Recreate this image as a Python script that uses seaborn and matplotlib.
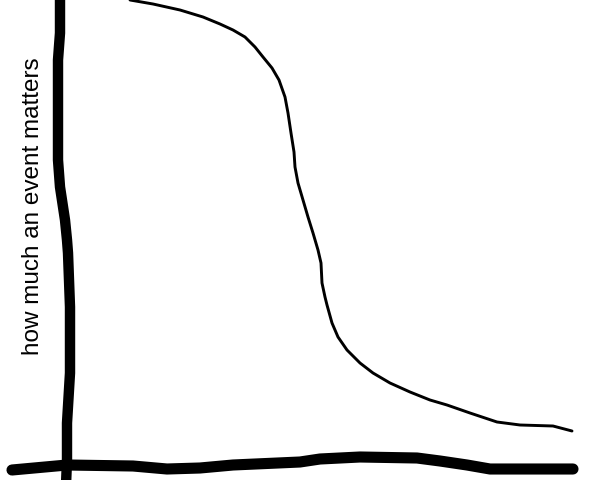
import matplotlib
matplotlib.use("Agg")
import matplotlib.pyplot as plt
import seaborn as sns
import pandas as pd

# Curve: "how much an event matters" (pixel-like units)
curve_x = [130, 153, 180, 203, 220, 233, 245, 255, 263, 272, 279, 285, 288, 291,
           294, 295, 298, 303, 308, 313, 318, 321, 322, 325, 327, 332, 338, 347,
           360, 373, 390, 410, 430, 447, 470, 497, 520, 553, 572]
curve_y = [0, 4, 10, 17, 24, 30, 37, 47, 57, 68, 80, 97, 113, 133,
           152, 167, 183, 200, 217, 233, 250, 263, 283, 297, 305, 323, 337, 350,
           363, 373, 383, 392, 400, 405, 413, 422, 425, 426, 431]

# Hand-drawn vertical axis
yaxis_x = [60, 60, 58, 58, 58, 60, 65, 67, 68, 69, 70, 70, 67, 67, 66]
yaxis_y = [-5, 33, 60, 120, 160, 187, 220, 240, 253, 280, 307, 373, 423, 460, 485]

# Hand-drawn horizontal axis
xaxis_x = [12, 67, 133, 167, 200, 233, 300, 320, 360, 417, 440, 467, 490, 533, 573]
xaxis_y = [470, 465, 466, 469, 468, 465, 462, 459, 457, 458, 461, 465, 469, 469, 469]

ylabel = "how much an event matters"

sns.set_theme(style="white")
plt.rcParams['font.family'] = ['Liberation Sans', 'DejaVu Sans']

fig = plt.figure(figsize=(6, 4.8), dpi=100)
ax = fig.add_axes([0, 0, 1, 1])

sns.lineplot(data=pd.DataFrame({"x": yaxis_x, "y": yaxis_y}), x="x", y="y",
             sort=False, estimator=None, color="black", linewidth=7.5,
             solid_capstyle="round", solid_joinstyle="round", ax=ax)
sns.lineplot(data=pd.DataFrame({"x": xaxis_x, "y": xaxis_y}), x="x", y="y",
             sort=False, estimator=None, color="black", linewidth=8,
             solid_capstyle="round", solid_joinstyle="round", ax=ax)
sns.lineplot(data=pd.DataFrame({"x": curve_x, "y": curve_y}), x="x", y="y",
             sort=False, estimator=None, color="black", linewidth=2.1,
             solid_capstyle="round", solid_joinstyle="round", ax=ax)

ax.text(33, 206, ylabel, rotation=90, ha="center", va="center",
        fontsize=17.5, color="black")

ax.set_xlim(0, 600)
ax.set_ylim(480, 0)
ax.axis("off")
fig.savefig("out.png", dpi=100, facecolor="white")
